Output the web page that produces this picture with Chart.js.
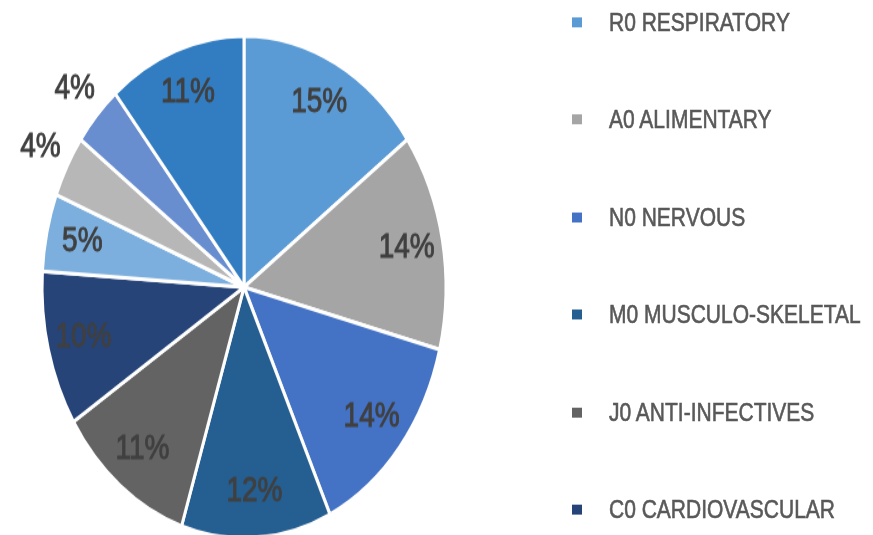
<!DOCTYPE html>
<html>
<head>
<meta charset="utf-8">
<script src="https://cdn.jsdelivr.net/npm/chart.js@4.4.1/dist/chart.umd.min.js"></script>
<style>
  html, body { margin: 0; padding: 0; background: #fff; overflow: hidden; width: 873px; height: 535px; }
  /* the reference is a vertically stretched screenshot, so stretch the whole thing */
  #wrap { position: relative; width: 873px; height: 440px; transform: scaleY(1.243); transform-origin: 0 0; }
  #legend { position: absolute; left: 572px; top: 0; font-family: "Liberation Sans", Arial, sans-serif; font-size: 21px; color: #595959; -webkit-text-stroke: 0.5px #595959; }
  .item { position: absolute; left: 0; height: 24px; line-height: 24px; white-space: nowrap; }
  .box { position: absolute; left: 0; top: 8px; width: 10px; height: 8px; }
  .txt { position: absolute; left: 37px; top: 0; }
</style>
</head>
<body>
<div id="wrap">
  <canvas id="myChart" width="873" height="440"></canvas>
  <div id="legend"></div>
</div>
<script>
var labels = ['R0 RESPIRATORY', 'A0 ALIMENTARY', 'N0 NERVOUS', 'M0 MUSCULO-SKELETAL',
  'J0 ANTI-INFECTIVES', 'C0 CARDIOVASCULAR', 'B0 BLOOD', 'D0 DERMATOLOGICALS',
  'G0 GENITO-URINARY', 'OTHER'];
var shares = [15, 14, 14, 12, 11, 10, 5, 4, 4, 11];
var colors = ['#5B9BD5', '#A5A5A5', '#4472C4', '#255E91', '#636363', '#264478',
  '#7CAFDD', '#B7B7B7', '#698ED0', '#327DC2'];

// percentage labels drawn on the slices (small ones go outside)
var pctLabels = {
  id: 'pctLabels',
  afterDatasetsDraw: function(chart) {
    var ctx = chart.ctx;
    var meta = chart.getDatasetMeta(0);
    ctx.save();
    ctx.font = '28px "Liberation Sans", Arial, sans-serif';
    ctx.fillStyle = '#404040';
    ctx.strokeStyle = '#404040';
    ctx.lineWidth = 0.8;
    ctx.textAlign = 'center';
    ctx.textBaseline = 'middle';
    meta.data.forEach(function(arc, i) {
      var p = arc.getProps(['x', 'y', 'startAngle', 'endAngle', 'outerRadius'], true);
      var mid = (p.startAngle + p.endAngle) / 2;
      var r = p.outerRadius * (shares[i] < 5 ? 1.15 : 0.82);
      var tx = p.x + Math.cos(mid) * r;
      var ty = p.y + Math.sin(mid) * r - 1;
      ctx.fillText(shares[i] + '%', tx, ty);
      ctx.strokeText(shares[i] + '%', tx, ty);
    });
    ctx.restore();
  }
};

var ctx = document.getElementById('myChart').getContext('2d');
var chart = new Chart(ctx, {
  type: 'pie',
  data: {
    labels: labels,
    datasets: [{
      data: shares,
      backgroundColor: colors,
      borderColor: '#ffffff',
      borderWidth: 3
    }]
  },
  options: {
    responsive: false,
    animation: false,
    radius: 202,
    layout: { padding: { left: 0, right: 385, top: 22, bottom: 0 } },
    plugins: {
      legend: { display: false },
      tooltip: { enabled: false }
    }
  },
  plugins: [pctLabels]
});

// legend on the right, built from the same arrays
var legend = document.getElementById('legend');
labels.forEach(function(name, i) {
  var item = document.createElement('div');
  item.className = 'item';
  item.style.top = (17.7 + i * 78.5 - 12) + 'px';
  item.innerHTML = '<span class="box" style="background:' + colors[i] + '"></span>' +
    '<span class="txt">' + name + '</span>';
  legend.appendChild(item);
});
</script>
</body>
</html>
